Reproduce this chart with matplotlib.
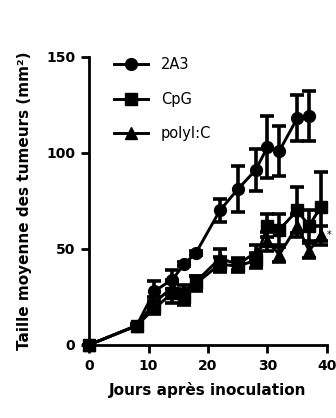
import matplotlib
matplotlib.use("Agg")
import matplotlib.pyplot as plt
from matplotlib.lines import Line2D

jours_2a3 = [0, 8, 11, 14, 16, 18, 22, 25, 28, 30, 32, 35, 37]
taille_2a3 = [0, 10, 28, 34, 42, 48, 70, 81, 91, 103, 101, 118, 119]
err_2a3 = [0, 1, 5, 5, 1, 1, 6, 12, 11, 16, 13, 12, 13]

jours_cpg = [0, 8, 11, 14, 16, 18, 22, 25, 28, 30, 32, 35, 37, 39]
taille_cpg = [0, 10, 19, 27, 25, 32, 42, 41, 44, 62, 60, 70, 62, 72]
err_cpg = [0, 1, 3, 5, 4, 4, 4, 3, 4, 6, 8, 12, 8, 18]

jours_poly = [0, 8, 11, 14, 16, 18, 22, 25, 28, 30, 32, 35, 37, 39]
taille_poly = [0, 10, 22, 30, 28, 33, 45, 42, 48, 54, 47, 62, 49, 57]
err_poly = [0, 1, 3, 4, 3, 3, 5, 3, 4, 5, 4, 6, 4, 5]

plt.rcParams['font.family'] = ['DejaVu Sans']

fig = plt.figure(figsize=(3.36, 4.18), dpi=100)
ax = fig.add_axes([0.265, 0.175, 0.708, 0.689])

style = dict(color='black', lw=2.1, capsize=5, capthick=2.6, elinewidth=2.6, clip_on=False)
ax.errorbar(jours_2a3, taille_2a3, yerr=err_2a3, marker='o', ms=8.5, **style)
ax.errorbar(jours_cpg, taille_cpg, yerr=err_cpg, marker='s', ms=8, **style)
ax.errorbar(jours_poly, taille_poly, yerr=err_poly, marker='^', ms=9, **style)
ax.text(jours_poly[-1] + 1.0, taille_poly[-1], '*', fontsize=7, va='center', ha='left')

ax.set_xlim(0, 40)
ax.set_ylim(0, 150)
ax.set_xticks([0, 10, 20, 30, 40])
ax.set_yticks([0, 50, 100, 150])
for s in ['top', 'right']:
    ax.spines[s].set_visible(False)
for s in ['left', 'bottom']:
    ax.spines[s].set_linewidth(2)
ax.tick_params(width=2, length=6, direction='out', labelsize=10, pad=4)
for lab in ax.get_xticklabels() + ax.get_yticklabels():
    lab.set_fontweight('bold')

ax.set_xlabel('Jours après inoculation', fontsize=11, fontweight='bold', labelpad=7)
ax.set_ylabel('Taille moyenne des tumeurs (mm²)', fontsize=11, fontweight='bold', labelpad=10)

handles = [Line2D([], [], color='black', lw=2.1, marker='o', ms=8.5),
           Line2D([], [], color='black', lw=2.1, marker='s', ms=8),
           Line2D([], [], color='black', lw=2.1, marker='^', ms=9)]
ax.legend(handles, ['2A3', 'CpG', 'polyI:C'], loc='upper left',
          bbox_to_anchor=(0.05, 1.045), frameon=False, fontsize=10.5,
          handlelength=2.3, labelspacing=1.35, handletextpad=0.9)

fig.savefig('out.png', dpi=100)
